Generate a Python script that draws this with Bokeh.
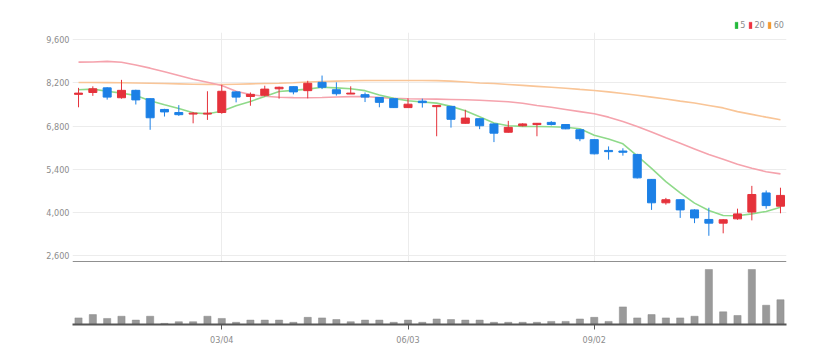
from bokeh.plotting import figure
from bokeh.models import ColumnDataSource, FixedTicker, NumeralTickFormatter, Range1d, Legend, LegendItem, Span
from bokeh.layouts import column
from bokeh.embed import file_html
from bokeh.resources import INLINE

# ---- data (weekly candles) ----
opens  = [7830, 7890, 8040, 7720, 7960, 7690, 7340, 7240, 7190, 7190,
          7240, 7910, 7760, 7800, 8010, 8080, 7950, 8220, 7980, 7840,
          7820, 7730, 7690, 7400, 7610, 7430, 7440, 6890, 7040, 6870,
          6600, 6810, 6850, 6920, 6850, 6680, 6360, 6010, 5990, 5880,
          5070, 4310, 4410, 4080, 3770, 3650, 3790, 4010, 4630, 4200]
highs  = [8040, 8090, 8060, 8300, 7980, 7700, 7360, 7480, 7260, 7930,
          8140, 7930, 7890, 8110, 8080, 8090, 8270, 8440, 8220, 8090,
          7890, 7740, 7700, 7700, 7690, 7480, 7450, 7330, 7050, 6890,
          6970, 6890, 6900, 6960, 6860, 6700, 6370, 6140, 6080, 5900,
          5080, 4470, 4420, 4100, 4150, 3780, 4120, 4860, 4710, 4800]
lows   = [7410, 7780, 7660, 7690, 7500, 6680, 7110, 7130, 6890, 7000,
          7200, 7570, 7460, 7760, 7690, 7830, 7700, 8000, 7790, 7840,
          7580, 7410, 7390, 7400, 7400, 6470, 6750, 6880, 6700, 6280,
          6590, 6790, 6470, 6820, 6700, 6310, 5880, 5710, 5840, 5100,
          4080, 4250, 3820, 3650, 3240, 3320, 3760, 3740, 4120, 3970]
closes = [7870, 8010, 7740, 7960, 7650, 7070, 7260, 7170, 7220, 7220,
          7930, 7740, 7830, 8000, 8060, 7910, 8190, 8060, 7850, 7870,
          7740, 7570, 7400, 7510, 7560, 7470, 7020, 7060, 6810, 6570,
          6760, 6870, 6890, 6850, 6710, 6390, 5900, 5970, 5950, 5120,
          4310, 4410, 4080, 3820, 3650, 3760, 3950, 4580, 4220, 4550]
volumes = [300000, 450000, 275000, 375000, 200000, 375000, 50000, 125000, 125000, 375000,
           275000, 100000, 200000, 200000, 200000, 100000, 325000, 300000, 225000, 125000,
           200000, 200000, 100000, 200000, 100000, 250000, 225000, 200000, 200000, 100000,
           100000, 100000, 100000, 140000, 140000, 250000, 325000, 140000, 800000, 300000,
           450000, 300000, 300000, 375000, 2500000, 575000, 410000, 2500000, 875000, 1125000]
ma5  = [7977, 8000, 7930, 7870, 7790, 7620, 7490, 7370, 7230, 7200,
        7283, 7460, 7600, 7760, 7920, 7960, 8000, 8062, 8040, 8010,
        7950, 7810, 7700, 7620, 7580, 7545, 7440, 7300, 7100, 6900,
        6810, 6790, 6786, 6780, 6760, 6711, 6500, 6380, 6225, 5830,
        5430, 5000, 4630, 4300, 4060, 3898, 3890, 3950, 4030, 4168]
ma20 = [8874, 8880, 8900, 8870, 8780, 8680, 8560, 8440, 8320, 8224,
        8120, 7930, 7820, 7770, 7737, 7725, 7718, 7730, 7745, 7755,
        7760, 7730, 7700, 7685, 7680, 7675, 7665, 7655, 7640, 7615,
        7590, 7540, 7470, 7410, 7340, 7270, 7199, 7090, 6950, 6790,
        6610, 6420, 6240, 6060, 5880, 5720, 5560, 5430, 5320, 5250]
ma60 = [8214, 8214, 8210, 8205, 8200, 8190, 8180, 8170, 8160, 8155,
        8150, 8160, 8170, 8180, 8190, 8205, 8230, 8247, 8260, 8270,
        8280, 8280, 8280, 8280, 8280, 8275, 8260, 8230, 8200, 8180,
        8150, 8120, 8090, 8060, 8030, 7990, 7955, 7910, 7860, 7800,
        7740, 7680, 7610, 7550, 7470, 7390, 7270, 7180, 7090, 7004]
tick_idx = [10, 23, 36]
tick_labels = ["03/04", "06/03", "09/02"]
price_ticks = [2600, 4000, 5400, 6800, 8200, 9600]
ma_names = ["5", "20", "60"]

RED = "#e5323b"
BLUE = "#1c80e6"
FONT = "Liberation Sans Narrow, DejaVu Sans Condensed, sans-serif"
GREY_TXT = "#8c8c8c"
NAN = float("nan")

n = len(opens)
xs = list(range(n))
src = ColumnDataSource(dict(
    x=xs, high=highs, low=lows,
    top=[max(o, c) for o, c in zip(opens, closes)],
    bottom=[min(o, c) for o, c in zip(opens, closes)],
    color=[RED if c >= o else BLUE for o, c in zip(opens, closes)],
    vol=volumes, ma5=ma5, ma20=ma20, ma60=ma60,
))

xr = Range1d(-0.42, n - 1 + 0.42)
yr = Range1d(2373, 9837)

# ---- legend strip above the chart ----
lgf = figure(frame_width=714, frame_height=14, min_border_left=72, min_border_right=46,
             min_border_top=18, min_border_bottom=0,
             x_range=Range1d(0, 1), y_range=Range1d(0, 1),
             output_backend="svg", toolbar_location=None)
lgf.outline_line_color = None
lgf.xaxis.visible = False
lgf.yaxis.visible = False
lgf.grid.visible = False
lg_colors = ["#22b83a", "#ee3340", "#f39a30"]
items = []
for name, col in zip(ma_names, lg_colors):
    r = lgf.quad(left=[NAN], right=[NAN], top=[NAN], bottom=[NAN],
                 fill_color=col, line_color=col, line_width=0.5)
    items.append(LegendItem(label=name, renderers=[r]))
legend = Legend(items=items, orientation="horizontal", location="bottom_right",
                glyph_width=4, glyph_height=8, label_standoff=2, spacing=3,
                padding=0, margin=2, border_line_color=None, background_fill_alpha=0,
                label_text_font=FONT, label_text_font_size="9px", label_text_color=GREY_TXT,
                label_height=9, label_width=1)
lgf.add_layout(legend)

# ---- price panel ----
p = figure(frame_width=714, frame_height=230, min_border_left=72, min_border_right=46,
           min_border_top=0, min_border_bottom=0,
           x_range=xr, y_range=yr,
           output_backend="svg", toolbar_location=None)
p.outline_line_color = None
p.xaxis.visible = False

p.line("x", "ma60", source=src, line_color="#f9c597", line_width=1.6)
p.line("x", "ma20", source=src, line_color="#f5a3ad", line_width=1.6)
p.line("x", "ma5", source=src, line_color="#8fda8a", line_width=1.6)

p.segment(x0="x", y0="high", x1="x", y1="low", source=src, line_color="color", line_width=1)
p.vbar(x="x", top="top", bottom="bottom", width=0.56, source=src,
       fill_color="color", line_color="color", line_width=1)

p.add_layout(Span(location=yr.start, dimension="width", line_color="#222222", line_width=2))

p.yaxis.ticker = FixedTicker(ticks=price_ticks)
p.yaxis.formatter = NumeralTickFormatter(format="0,0")
p.yaxis.axis_line_color = None
p.yaxis.major_tick_line_color = None
p.yaxis.minor_tick_line_color = None
p.yaxis.major_tick_out = 0
p.yaxis.major_label_standoff = 3
p.yaxis.major_label_text_font = FONT
p.yaxis.major_label_text_font_size = "9px"
p.yaxis.major_label_text_color = GREY_TXT

p.ygrid.grid_line_color = "#ececec"
p.xgrid.grid_line_color = "#ececec"
p.xgrid.ticker = FixedTicker(ticks=tick_idx)

# ---- volume panel ----
v = figure(frame_width=714, frame_height=58, min_border_left=72, min_border_right=46,
           min_border_top=4, min_border_bottom=22,
           x_range=xr, y_range=Range1d(0, 2636000),
           output_backend="svg", toolbar_location=None)
v.outline_line_color = None
v.vbar(x="x", top="vol", bottom=0, width=0.5, source=src, fill_color="#9a9a9a",
       line_color="#8a8a8a", line_width=0.5)
v.yaxis.visible = False
v.grid.visible = False
v.xaxis.ticker = FixedTicker(ticks=tick_idx)
v.xaxis.major_label_overrides = {t: l for t, l in zip(tick_idx, tick_labels)}
v.xaxis.axis_line_color = "#555555"
v.xaxis.axis_line_width = 2
v.xaxis.major_tick_line_color = "#555555"
v.xaxis.major_tick_out = 5
v.xaxis.major_tick_in = 0
v.xaxis.minor_tick_line_color = None
v.xaxis.major_label_standoff = 5
v.xaxis.major_label_text_font = FONT
v.xaxis.major_label_text_font_size = "9px"
v.xaxis.major_label_text_color = GREY_TXT

layout = column(lgf, p, v, spacing=0)
open("out.html", "w").write(file_html(layout, INLINE))
